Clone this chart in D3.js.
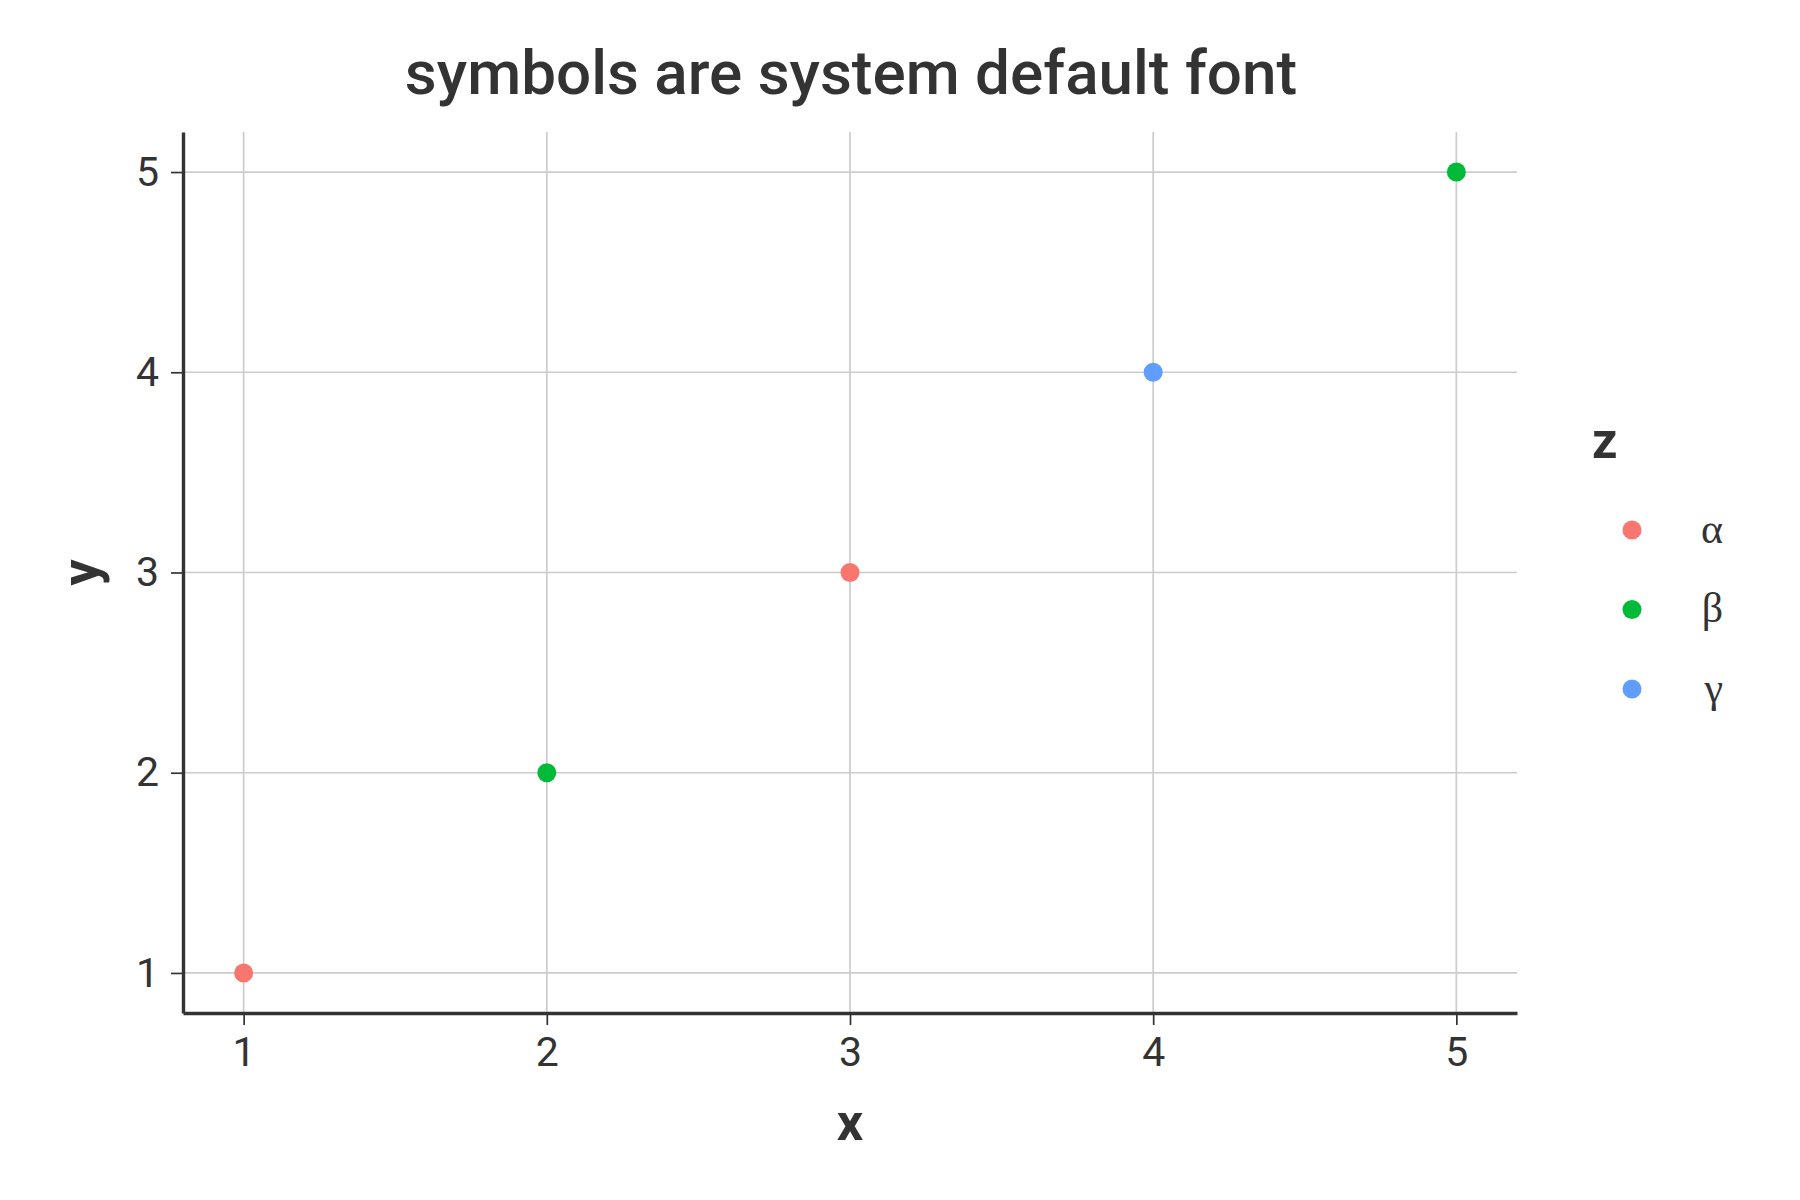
<!DOCTYPE html>
<html>
<head>
<meta charset="utf-8">
<script src="https://cdn.jsdelivr.net/npm/d3@7"></script>
<style>
  body { margin: 0; background: #fff; }
  svg { display: block; font-family: Roboto, sans-serif; }
</style>
</head>
<body>
<div id="chart"></div>
<script>
// data
const xValues = [1, 2, 3, 4, 5];
const yValues = [1, 2, 3, 4, 5];
const zValues = ["α", "β", "α", "γ", "β"];
const categories = ["α", "β", "γ"];
const palette = ["#F8766D", "#00BA38", "#619CFF"];
const tickValues = [1, 2, 3, 4, 5];

const width = 1800, height = 1200;
const margin = {left: 183, right: 283, top: 132, bottom: 187};

const svg = d3.select("#chart").append("svg")
    .attr("width", width)
    .attr("height", height);

const x = d3.scaleLinear().domain([0.8, 5.2]).range([margin.left, width - margin.right]);
const y = d3.scaleLinear().domain([0.8, 5.2]).range([height - margin.bottom, margin.top]);
const color = d3.scaleOrdinal().domain(categories).range(palette);

// grid lines
svg.append("g").selectAll("line.vx")
    .data(tickValues).enter().append("line")
    .attr("x1", d => x(d)).attr("x2", d => x(d))
    .attr("y1", y(5.2)).attr("y2", y(0.8))
    .attr("stroke", "#cccccc").attr("stroke-width", 1.7);
svg.append("g").selectAll("line.hy")
    .data(tickValues).enter().append("line")
    .attr("y1", d => y(d)).attr("y2", d => y(d))
    .attr("x1", x(0.8)).attr("x2", x(5.2))
    .attr("stroke", "#cccccc").attr("stroke-width", 1.7);

// axes
const xAxis = svg.append("g")
    .attr("transform", `translate(0,${y(0.8)})`)
    .call(d3.axisBottom(x).tickValues(tickValues).tickFormat(d3.format("d"))
        .tickSize(12).tickPadding(12).tickSizeOuter(0));
const yAxis = svg.append("g")
    .attr("transform", `translate(${x(0.8)},0)`)
    .call(d3.axisLeft(y).tickValues(tickValues).tickFormat(d3.format("d"))
        .tickSize(12).tickPadding(12).tickSizeOuter(0));

[xAxis, yAxis].forEach(a => {
    a.select(".domain").attr("stroke", "#333333").attr("stroke-width", 3.4);
    a.selectAll(".tick line").attr("stroke", "#333333").attr("stroke-width", 1.7);
    a.selectAll(".tick text")
        .attr("fill", "#333333")
        .style("font-family", "Roboto, sans-serif")
        .style("font-size", "41px");
});

// points
svg.append("g").selectAll("circle")
    .data(xValues.map((d, i) => ({x: d, y: yValues[i], z: zValues[i]})))
    .enter().append("circle")
    .attr("cx", d => x(d.x))
    .attr("cy", d => y(d.y))
    .attr("r", 9.5)
    .attr("fill", d => color(d.z));

// title
svg.append("text")
    .attr("x", 851).attr("y", 94)
    .attr("text-anchor", "middle")
    .attr("fill", "#333333")
    .style("font-size", "62px")
    .style("font-weight", 500)
    .text("symbols are system default font");

// axis titles
svg.append("text")
    .attr("x", x(3)).attr("y", 1140)
    .attr("text-anchor", "middle")
    .attr("fill", "#333333")
    .style("font-size", "52px")
    .style("font-weight", 700)
    .text("x");
svg.append("text")
    .attr("transform", `translate(98,${y(3)}) rotate(-90)`)
    .attr("text-anchor", "middle")
    .attr("fill", "#333333")
    .style("font-size", "52px")
    .style("font-weight", 700)
    .text("y");

// legend
const legend = svg.append("g");
legend.append("text")
    .attr("x", 1592).attr("y", 458)
    .attr("fill", "#333333")
    .style("font-size", "50px")
    .style("font-weight", 700)
    .text("z");
const items = legend.selectAll("g.item")
    .data(categories).enter().append("g")
    .attr("transform", (d, i) => `translate(0,${530 + i * 79.5})`);
items.append("circle")
    .attr("cx", 1632).attr("cy", 0).attr("r", 9.5)
    .attr("fill", d => color(d));
items.append("text")
    .attr("x", 1723).attr("y", 0)
    .attr("dy", "0.3em")
    .attr("text-anchor", "end")
    .attr("fill", "#333333")
    .style("font-family", "'Liberation Serif', serif")
    .style("font-size", "42px")
    .text(d => d);
</script>
</body>
</html>
